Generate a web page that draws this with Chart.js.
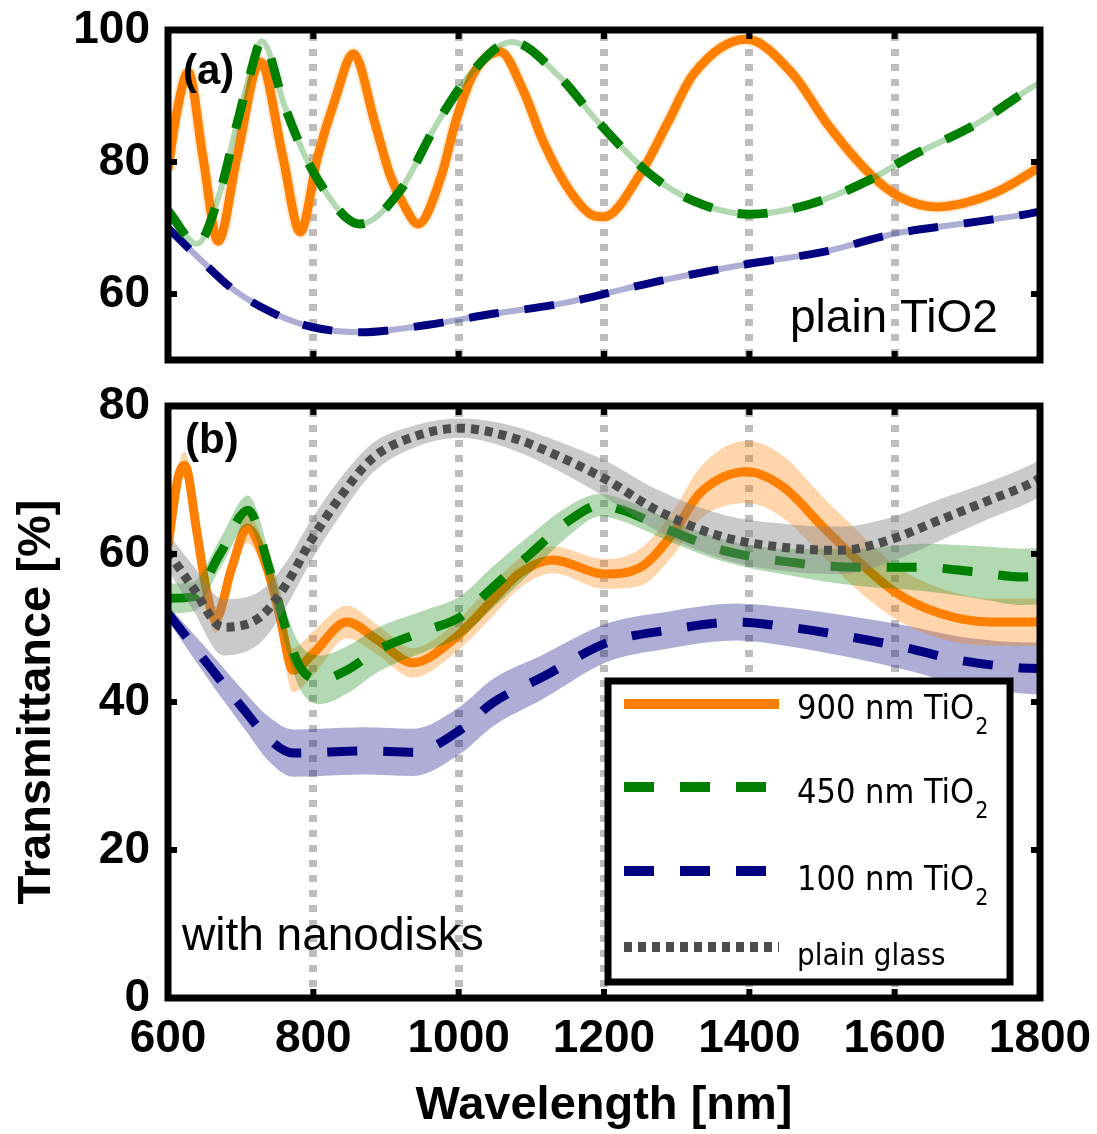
<!DOCTYPE html>
<html>
<head>
<meta charset="utf-8">
<script src="https://cdn.jsdelivr.net/npm/chart.js@4.4.1/dist/chart.umd.min.js"></script>
<style>
  html, body { margin: 0; padding: 0; background: #fff; }
  #wrap { position: relative; width: 1097px; height: 1134px; }
  #wrap canvas { position: absolute; left: 0; }
  #chartA { top: 0; }
  #chartB { top: 380px; }
</style>
</head>
<body>
<div id="wrap">
  <canvas id="chartA" width="1097" height="380"></canvas>
  <canvas id="chartB" width="1097" height="754"></canvas>
</div>
<script>
// axis ticks
const xTicks = [600, 800, 1000, 1200, 1400, 1600, 1800];
const yTicksA = [60, 80, 100];
const yTicksB = [0, 20, 40, 60, 80];

// (a) plain TiO2 films
const aOrangeNm = [600, 612, 628, 648, 669, 695, 727, 758, 782, 806, 830, 855, 885, 905, 926, 944, 977, 995, 1020, 1057, 1089, 1116, 1153, 1185, 1200, 1250, 1287, 1323, 1396, 1460, 1507, 1566, 1607, 1658, 1735, 1790, 1800];
const aOrangeT = [78.8, 87.5, 93.6, 80.8, 68, 80.8, 95.2, 80.8, 69.4, 80.8, 89.5, 96.4, 85.8, 78.2, 73.2, 70.6, 78.2, 85.8, 93.3, 96.7, 90.8, 83.2, 75.6, 71.9, 71.7, 78.2, 85.8, 93.3, 98.6, 93.3, 85.8, 78.2, 74.7, 73.2, 75.2, 78.6, 79.4];

const aGreenNm = [600, 640, 672, 695, 713, 729, 761, 789, 816, 844, 864, 919, 970, 1016, 1073, 1139, 1190, 1263, 1323, 1401, 1483, 1562, 1621, 1713, 1790, 1800];
const aGreenT = [72.6, 67.6, 75.6, 85.8, 93.3, 98.3, 88.3, 80.8, 75.6, 71.7, 70.6, 75.6, 85.8, 93.3, 98.2, 92.9, 86.3, 78.2, 74.1, 72.1, 73.6, 77.1, 80.8, 85.8, 91.4, 92];

const aNavyNm = [600, 641, 692, 747, 798, 864, 956, 1047, 1139, 1277, 1396, 1507, 1598, 1690, 1782, 1800];
const aNavyT = [70, 65.6, 60.5, 57, 55, 54.2, 55.3, 57, 58.5, 62, 64.5, 66.5, 69.1, 70.6, 72.1, 72.5];

// (b) with nanodisks: mean and half width of the shaded band
const bOrangeNm = [600, 614, 623, 640, 651, 665, 688, 709, 736, 754, 772, 800, 846, 888, 937, 992, 1047, 1084, 1130, 1200, 1250, 1295, 1332, 1397, 1446, 1502, 1548, 1603, 1662, 1731, 1800];
const bOrangeT = [61, 70.4, 72, 62.8, 56.1, 51.1, 58.2, 63.5, 58.2, 51.5, 44.3, 46.6, 50.8, 48.4, 45.3, 48.4, 53.8, 57.4, 59.2, 57.3, 58.2, 62.8, 68.2, 71.1, 69.1, 63.6, 59.2, 54.7, 52, 50.8, 50.8];
const bOrangeHw = [1.5, 1.5, 1.8, 1.8, 1.8, 1.8, 1.8, 2, 2, 2.5, 3, 3, 2.2, 2, 2, 2, 2.2, 2, 1.8, 2, 2.5, 3, 3.5, 4.2, 4.2, 4, 4, 3.6, 3.4, 3.2, 3.2];

const bGreenNm = [600, 634, 672, 710, 740, 764, 782, 809, 846, 888, 956, 1002, 1047, 1094, 1153, 1195, 1226, 1295, 1364, 1456, 1548, 1639, 1708, 1777, 1800];
const bGreenT = [54, 54.2, 60.1, 65.9, 57.8, 49.3, 44.7, 43, 44.3, 47, 49.7, 51.5, 55.5, 59.6, 64.6, 66.6, 65.9, 63, 60.5, 58.9, 58.2, 58.2, 57.6, 56.9, 57];
const bGreenHw = [2, 2, 2, 2, 2.2, 2.5, 3, 3.3, 3.2, 3, 2.8, 2.8, 2.8, 2.6, 2, 1.5, 1.5, 1.5, 1.5, 1.8, 2.5, 3.2, 3.5, 3.8, 3.8];

const bNavyNm = [600, 658, 705, 740, 772, 809, 870, 937, 1002, 1047, 1116, 1204, 1287, 1383, 1456, 1539, 1617, 1686, 1763, 1800];
const bNavyT = [52, 44.7, 38.9, 34.9, 33.1, 33.2, 33.4, 33.2, 36.2, 39.9, 43.4, 48, 49.7, 50.8, 50.1, 48.8, 47.3, 45.7, 44.7, 44.5];
const bNavyHw = [1, 2, 2.5, 3, 3.2, 3.2, 3.2, 3.2, 3.2, 3.2, 3, 2.6, 2.5, 2.5, 2.6, 2.8, 3, 3.2, 3.4, 3.5];

const bGrayNm = [600, 634, 676, 727, 764, 795, 837, 882, 937, 1002, 1071, 1140, 1204, 1273, 1364, 1456, 1525, 1593, 1662, 1731, 1790, 1800];
const bGrayT = [60.3, 55.5, 50.1, 51.5, 56.1, 61.5, 67.7, 73, 75.8, 77, 75.8, 73.1, 70, 65.9, 62.3, 60.8, 60.5, 61.9, 64.6, 67.3, 69.7, 70.3];
const bGrayHw = [2.5, 3, 3.8, 3.5, 3, 2.8, 2.5, 2, 1.5, 1.3, 1.6, 2, 2.5, 2.8, 3, 3.2, 3.2, 3, 2.8, 2.5, 2.5, 2.5];

const legendNames = ['900 nm TiO', '450 nm TiO', '100 nm TiO', 'plain glass'];
const legendSubs = ['2', '2', '2', ''];

// colours and styles
const ORANGE = '#ff8000', GREEN = '#008000', NAVY = '#000080', GRAY = '#4d4d4d';
const DASH = [30, 26], DOTS = [8, 6];
const tickFont = { family: "'Liberation Sans', Arial, sans-serif", size: 46, weight: 'bold' };
const titleFont = { family: "'Liberation Sans', Arial, sans-serif", size: 47, weight: 'bold' };

const pts = (xs, ys) => xs.map((x, i) => ({ x, y: ys[i] }));

function lineSet(label, xs, ys, color, width, dash, order) {
    return {
        label, data: pts(xs, ys), borderColor: color, borderWidth: width, borderDash: dash,
        borderCapStyle: 'butt', pointRadius: 0, fill: false, cubicInterpolationMode: 'monotone', order
    };
}

function bandSets(xs, ys, hw, color, order) {
    const lo = ys.map((v, i) => v - hw[i]);
    const hi = ys.map((v, i) => v + hw[i]);
    const base = { borderColor: 'rgba(0,0,0,0)', borderWidth: 0, pointRadius: 0, cubicInterpolationMode: 'monotone', order };
    return [
        { ...base, label: '', data: pts(xs, lo), fill: false },
        { ...base, label: '', data: pts(xs, hi), fill: '-1', backgroundColor: color }
    ];
}

function xScale(showLabels) {
    return {
        type: 'linear', min: 600, max: 1800,
        afterBuildTicks: s => { s.ticks = xTicks.map(v => ({ value: v })); },
        afterFit: s => { s.height = showLabels ? 136 : 0; s.paddingLeft = 0; s.paddingRight = 0; },
        grid: { display: false, drawTicks: false },
        border: { display: false },
        ticks: { display: showLabels, padding: 14, color: '#000', font: tickFont, maxRotation: 0, autoSkip: false, callback: v => String(v) },
        title: { display: showLabels, text: 'Wavelength [nm]', color: '#000', font: titleFont, padding: { top: 0, bottom: 0 } }
    };
}

function yScale(min, max, ticks, title) {
    return {
        type: 'linear', min, max,
        afterBuildTicks: s => { s.ticks = ticks.map(v => ({ value: v })); },
        afterFit: s => { s.width = 168; s.paddingTop = 0; s.paddingBottom = 0; },
        grid: { display: false, drawTicks: false },
        border: { display: false },
        ticks: { padding: 18, color: '#000', font: tickFont },
        title: { display: !!title, text: title || '', color: '#000', font: titleFont, padding: { top: 9, bottom: 0 } }
    };
}

// dotted vertical grid at the inner x ticks
const gridPlugin = {
    id: 'dotGrid',
    beforeDatasetsDraw(chart) {
        const { ctx, chartArea: a, scales: { x } } = chart;
        ctx.save();
        ctx.strokeStyle = '#bdbdbd';
        ctx.lineWidth = 8;
        ctx.setLineDash([7, 8]);
        ctx.beginPath();
        x.ticks.slice(1, -1).forEach(t => {
            const p = Math.round(x.getPixelForValue(t.value));
            ctx.moveTo(p, a.top + 4);
            ctx.lineTo(p, a.bottom);
        });
        ctx.stroke();
        ctx.restore();
    }
};

// thick black frame with inward tick marks
const framePlugin = {
    id: 'frame',
    afterDatasetsDraw(chart) {
        const { ctx, chartArea: a, scales: { x, y } } = chart;
        ctx.save();
        ctx.strokeStyle = '#000';
        ctx.setLineDash([]);
        ctx.lineWidth = 6;
        ctx.beginPath();
        x.ticks.forEach(t => {
            const p = x.getPixelForValue(t.value);
            ctx.moveTo(p, a.top); ctx.lineTo(p, a.top + 9);
            ctx.moveTo(p, a.bottom); ctx.lineTo(p, a.bottom - 9);
        });
        y.ticks.forEach(t => {
            const p = y.getPixelForValue(t.value);
            ctx.moveTo(a.left, p); ctx.lineTo(a.left + 9, p);
            ctx.moveTo(a.right, p); ctx.lineTo(a.right - 9, p);
        });
        ctx.stroke();
        ctx.lineWidth = 7;
        ctx.strokeRect(a.left, a.top, a.right - a.left, a.bottom - a.top);
        ctx.restore();
    }
};

function notesPlugin(items) {
    return {
        id: 'notes',
        afterDatasetsDraw(chart) {
            const ctx = chart.ctx;
            ctx.save();
            ctx.fillStyle = '#000';
            ctx.textAlign = 'left';
            ctx.textBaseline = 'alphabetic';
            items.forEach(n => { ctx.font = n.font; ctx.fillText(n.text, n.x, n.y); });
            ctx.restore();
        }
    };
}

const legendPlugin = {
    id: 'boxLegend',
    afterDraw(chart) {
        const ctx = chart.ctx;
        const rows = [324, 407, 491, 567];
        const base = [339, 423, 510, 585];
        ctx.save();
        ctx.fillStyle = '#fff';
        ctx.fillRect(608, 301, 402, 301);
        ctx.strokeStyle = '#000';
        ctx.lineWidth = 7;
        ctx.setLineDash([]);
        ctx.strokeRect(608, 301, 402, 301);
        legendNames.forEach((name, i) => {
            const ds = chart.data.datasets.find(d => d.label === name + legendSubs[i]);
            ctx.strokeStyle = ds.borderColor;
            ctx.lineWidth = 10;
            ctx.lineCap = 'butt';
            ctx.setLineDash(ds.borderDash || []);
            ctx.beginPath();
            ctx.moveTo(624, rows[i]);
            ctx.lineTo(779, rows[i]);
            ctx.stroke();
            ctx.setLineDash([]);
            ctx.fillStyle = '#000';
            ctx.textAlign = 'left';
            ctx.textBaseline = 'alphabetic';
            ctx.font = (i === 3 ? '31px' : '34px') + " 'DejaVu Sans Condensed', 'DejaVu Sans', sans-serif";
            ctx.fillText(name, 797, base[i]);
            if (legendSubs[i]) {
                const w = ctx.measureText(name).width;
                ctx.font = "23px 'DejaVu Sans Condensed', 'DejaVu Sans', sans-serif";
                ctx.fillText(legendSubs[i], 797 + w + 1, base[i] + 15);
            }
        });
        ctx.restore();
    }
};

const common = {
    responsive: false,
    animation: false,
    events: [],
    plugins: { legend: { display: false }, tooltip: { enabled: false } }
};

new Chart(document.getElementById('chartA'), {
    type: 'line',
    data: {
        datasets: [
            lineSet('100 nm TiO2', aNavyNm, aNavyT, NAVY, 8, DASH, 5),
            lineSet('', aNavyNm, aNavyT, 'rgba(0,0,128,0.32)', 6, [], 6),
            lineSet('900 nm TiO2', aOrangeNm, aOrangeT, ORANGE, 9, [], 3),
            lineSet('', aOrangeNm, aOrangeT, 'rgba(255,128,0,0.15)', 13, [], 4),
            lineSet('450 nm TiO2', aGreenNm, aGreenT, GREEN, 9, DASH, 1),
            lineSet('', aGreenNm, aGreenT, 'rgba(0,128,0,0.3)', 6, [], 2)
        ]
    },
    options: {
        ...common,
        layout: { padding: { left: 0, right: 57, top: 30, bottom: 20 } },
        scales: { x: xScale(false), y: yScale(50, 100, yTicksA, '') }
    },
    plugins: [gridPlugin, framePlugin, notesPlugin([
        { text: '(a)', x: 183, y: 84, font: "bold 42px 'Liberation Sans', Arial, sans-serif" },
        { text: 'plain TiO2', x: 790, y: 332, font: "46px 'Liberation Sans', Arial, sans-serif" }
    ])]
});

new Chart(document.getElementById('chartB'), {
    type: 'line',
    data: {
        datasets: [
            ...bandSets(bNavyNm, bNavyT, bNavyHw, 'rgba(0,0,128,0.32)', 8),
            lineSet('100 nm TiO2', bNavyNm, bNavyT, NAVY, 9, DASH, 7),
            ...bandSets(bOrangeNm, bOrangeT, bOrangeHw, 'rgba(255,128,0,0.33)', 6),
            lineSet('900 nm TiO2', bOrangeNm, bOrangeT, ORANGE, 9, [], 5),
            ...bandSets(bGreenNm, bGreenT, bGreenHw, 'rgba(0,128,0,0.3)', 4),
            lineSet('450 nm TiO2', bGreenNm, bGreenT, GREEN, 9, DASH, 3),
            ...bandSets(bGrayNm, bGrayT, bGrayHw, 'rgba(128,128,128,0.42)', 2),
            lineSet('plain glass', bGrayNm, bGrayT, GRAY, 9, DOTS, 1)
        ]
    },
    options: {
        ...common,
        layout: { padding: { left: 0, right: 57, top: 26, bottom: 0 } },
        scales: { x: xScale(true), y: yScale(0, 80, yTicksB, 'Transmittance [%]') }
    },
    plugins: [gridPlugin, framePlugin, notesPlugin([
        { text: '(b)', x: 185, y: 73, font: "bold 42px 'Liberation Sans', Arial, sans-serif" },
        { text: 'with nanodisks', x: 182, y: 570, font: "46px 'Liberation Sans', Arial, sans-serif" }
    ]), legendPlugin]
});
</script>
</body>
</html>
